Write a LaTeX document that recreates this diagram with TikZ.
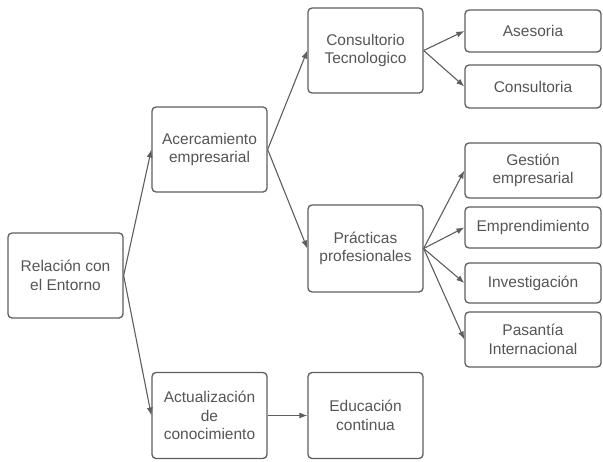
\documentclass[tikz,border=0pt]{standalone}
\usepackage{fontspec}
\setmainfont{Liberation Sans}
\usetikzlibrary{arrows.meta}
\usetikzlibrary{positioning}
\definecolor{linegray}{HTML}{5E5E5E}
\definecolor{textgray}{HTML}{555555}

\begin{document}
\begin{tikzpicture}[x=1pt, y=-1pt,
    box/.style={draw=linegray, line width=1.3pt, rounded corners=4pt, align=center,
      inner sep=0pt, minimum width=115pt, minimum height=85pt, text=textgray,
      font=\fontsize{15.5}{18.5}\selectfont},
    leaf/.style={box, minimum width=136pt},
    link/.style={draw=linegray, line width=1.1pt, -{Latex[length=8pt, width=6pt]}}]
      \useasboundingbox (0,0) rectangle (603,461);

      % main branches
      \node[box] (rel) at (65.5,275.5) {Relación con\\el Entorno};
      \node[box] (ace) at (209.5,149.5) {Acercamiento\\empresarial};
      \node[box, minimum height=86pt] (act) at (209.5,415.5) {Actualización\\de\\conocimiento};
      \node[box] (con) at (365.5,50.5) {Consultorio\\Tecnologico};
      \node[box, minimum height=87pt] (pra) at (365.5,248.5) {Prácticas\\profesionales};
      \node[box, minimum height=86pt] (edu) at (365.5,415.5) {Educación\\continua};

      % leaves
      \node[leaf, minimum height=42pt] (ase) at (533,31) {Asesoria};
      \node[leaf, minimum height=43pt] (cns) at (533,86.5) {Consultoria};
      \node[leaf, minimum height=55pt] (ges) at (533,170.5) {Gestión\\empresarial};
      \node[leaf, minimum height=41pt] (emp) at (533,227.5) {Emprendimiento};
      \node[leaf, minimum height=40pt] (inv) at (533,283) {Investigación};
      \node[leaf, minimum height=55pt] (pas) at (533,339.5) {Pasantía\\Internacional};

      \foreach \a/\b in {rel/ace, rel/act, ace/con, ace/pra, act/edu,
                         con/ase, con/cns, pra/ges, pra/emp, pra/inv, pra/pas}
        \draw[link] (\a.east) -- (\b.west);
    \end{tikzpicture}
\end{document}
